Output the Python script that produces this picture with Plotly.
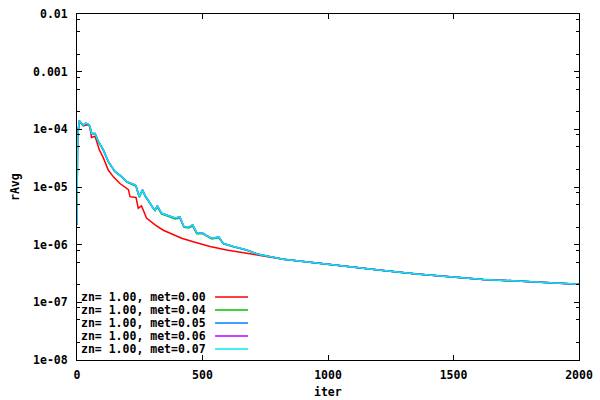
import plotly.graph_objects as go

# ---- data ----
iter_met000 = [0, 2, 9, 25, 40, 50, 58, 72, 89, 105, 125, 145, 171, 198, 205, 211, 235, 244, 257, 277,
               311, 344, 384, 417, 463, 530, 596, 663, 722, 822, 955, 1088, 1220, 1353, 1486, 1619, 1752, 1884, 2000]
ravg_met000 = [2.2e-6, 7.0e-5, 1.41e-4, 1.15e-4, 1.2e-4, 1.17e-4, 7.2e-5, 7.6e-5, 4.4e-5, 3.2e-5,
               1.95e-5, 1.5e-5, 1.15e-5, 9.5e-6, 9.0e-6, 6.8e-6, 6.6e-6, 4.3e-6, 4.7e-6, 2.9e-6,
               2.2e-6, 1.78e-6, 1.48e-6, 1.29e-6, 1.12e-6, 9.3e-7, 8.1e-7, 7.2e-7, 6.6e-7, 5.6e-7,
               4.8e-7, 4.1e-7, 3.55e-7, 3.1e-7, 2.75e-7, 2.5e-7, 2.35e-7, 2.2e-7, 2.05e-7]

iter_doped = [0, 2, 9, 18, 25, 35, 45, 52, 58, 72, 85, 105, 125, 151, 178, 198, 218, 228, 235, 248,
              261, 272, 284, 300, 311, 320, 337, 355, 371, 390, 410, 426, 445, 461, 477, 500, 515, 537, 565, 583,
              623, 676, 722, 822, 955, 1088, 1220, 1353, 1486, 1619, 1752, 1884, 2000]
ravg_met004 = [2.2e-6, 7.0e-5, 1.40e-4, 1.24e-4, 1.18e-4, 1.26e-4, 1.22e-4, 1.08e-4, 8.4e-5, 8.4e-5,
               6.1e-5, 4.3e-5, 2.7e-5, 1.84e-5, 1.49e-5, 1.22e-5, 1.13e-5, 1.08e-5, 1.03e-5, 6.6e-6,
               8.7e-6, 6.8e-6, 5.7e-6, 4.4e-6, 3.9e-6, 4.5e-6, 3.4e-6, 3.2e-6, 3.0e-6, 2.8e-6,
               2.9e-6, 2.0e-6, 1.95e-6, 2.1e-6, 1.55e-6, 1.55e-6, 1.42e-6, 1.26e-6, 1.32e-6, 1.03e-6,
               9.2e-7, 8.0e-7, 6.8e-7, 5.6e-7, 4.8e-7, 4.1e-7, 3.55e-7, 3.1e-7, 2.75e-7, 2.5e-7,
               2.35e-7, 2.2e-7, 2.05e-7]
ravg_met005 = [2.2e-6, 7.0e-5, 1.41e-4, 1.25e-4, 1.19e-4, 1.27e-4, 1.23e-4, 1.1e-4, 8.5e-5, 8.5e-5,
               6.2e-5, 4.4e-5, 2.75e-5, 1.86e-5, 1.51e-5, 1.23e-5, 1.15e-5, 1.1e-5, 1.05e-5, 6.8e-6,
               8.9e-6, 7.0e-6, 5.9e-6, 4.5e-6, 4.0e-6, 4.7e-6, 3.5e-6, 3.3e-6, 3.1e-6, 2.9e-6,
               3.0e-6, 2.05e-6, 2.0e-6, 2.2e-6, 1.6e-6, 1.6e-6, 1.45e-6, 1.29e-6, 1.35e-6, 1.05e-6,
               9.3e-7, 8.1e-7, 6.8e-7, 5.6e-7, 4.8e-7, 4.1e-7, 3.55e-7, 3.1e-7, 2.75e-7, 2.5e-7,
               2.35e-7, 2.2e-7, 2.05e-7]
ravg_met006 = [2.2e-6, 7.0e-5, 1.41e-4, 1.25e-4, 1.19e-4, 1.27e-4, 1.23e-4, 1.1e-4, 8.5e-5, 8.5e-5,
               6.2e-5, 4.4e-5, 2.75e-5, 1.86e-5, 1.51e-5, 1.23e-5, 1.15e-5, 1.1e-5, 1.05e-5, 6.8e-6,
               8.9e-6, 7.0e-6, 5.9e-6, 4.5e-6, 4.0e-6, 4.7e-6, 3.5e-6, 3.3e-6, 3.1e-6, 2.9e-6,
               3.0e-6, 2.05e-6, 2.0e-6, 2.2e-6, 1.6e-6, 1.6e-6, 1.45e-6, 1.29e-6, 1.35e-6, 1.05e-6,
               9.3e-7, 8.1e-7, 6.8e-7, 5.6e-7, 4.8e-7, 4.1e-7, 3.55e-7, 3.1e-7, 2.75e-7, 2.5e-7,
               2.35e-7, 2.2e-7, 2.05e-7]
ravg_met007 = [2.2e-6, 7.0e-5, 1.41e-4, 1.25e-4, 1.19e-4, 1.27e-4, 1.23e-4, 1.1e-4, 8.5e-5, 8.5e-5,
               6.2e-5, 4.4e-5, 2.75e-5, 1.86e-5, 1.51e-5, 1.23e-5, 1.15e-5, 1.1e-5, 1.05e-5, 6.8e-6,
               8.9e-6, 7.0e-6, 5.9e-6, 4.5e-6, 4.0e-6, 4.7e-6, 3.5e-6, 3.3e-6, 3.1e-6, 2.9e-6,
               3.0e-6, 2.05e-6, 2.0e-6, 2.2e-6, 1.6e-6, 1.6e-6, 1.45e-6, 1.29e-6, 1.35e-6, 1.05e-6,
               9.3e-7, 8.1e-7, 6.8e-7, 5.6e-7, 4.8e-7, 4.1e-7, 3.55e-7, 3.1e-7, 2.75e-7, 2.5e-7,
               2.35e-7, 2.2e-7, 2.05e-7]

series_names = ["zn= 1.00, met=0.00", "zn= 1.00, met=0.04", "zn= 1.00, met=0.05",
                "zn= 1.00, met=0.06", "zn= 1.00, met=0.07"]
series_colors = ["#ff0000", "#00c000", "#0080ff", "#c000ff", "#00eeee"]

x_tickvals = [0, 500, 1000, 1500, 2000]
y_tickvals = [1e-8, 1e-7, 1e-6, 1e-5, 1e-4, 1e-3, 1e-2]
y_ticktext = ["1e-08", "1e-07", "1e-06", "1e-05", "1e-04", "0.001", "0.01"]
y_minor_vals = [m * 10.0 ** e for e in range(-8, -2) for m in (2, 5, 8)]

series_x = [iter_met000, iter_doped, iter_doped, iter_doped, iter_doped]
series_y = [ravg_met000, ravg_met004, ravg_met005, ravg_met006, ravg_met007]

FONT = "DejaVu Sans Mono"
FS = 11.5

fig = go.Figure()
for xs, ys, name, col in zip(series_x, series_y, series_names, series_colors):
    fig.add_trace(go.Scatter(x=xs, y=ys, mode="lines", name=name,
                             line=dict(color=col, width=1.5), showlegend=False))

# gnuplot-style key: right-aligned text followed by line sample
row_y = [0.182, 0.1445, 0.107, 0.0694, 0.0318]
for name, col, ry in zip(series_names, series_colors, row_y):
    fig.add_annotation(x=0.259, y=ry, xref="paper", yref="paper", text=name,
                       showarrow=False, xanchor="right", yanchor="middle", borderpad=0,
                       font=dict(family=FONT, size=FS, color="black", weight="bold"))
    fig.add_shape(type="line", xref="paper", yref="paper", x0=0.275, x1=0.3406,
                  y0=ry, y1=ry, line=dict(color=col, width=1.5))

fig.add_annotation(x=0.5, y=-0.0925, xref="paper", yref="paper", text="iter",
                   showarrow=False, xanchor="center", yanchor="middle",
                   font=dict(family=FONT, size=FS, color="black", weight="bold"))
fig.add_annotation(x=-0.1235, y=0.5, xref="paper", yref="paper", text="rAvg",
                   showarrow=False, xanchor="center", yanchor="middle", textangle=-90,
                   font=dict(family=FONT, size=FS, color="black", weight="bold"))

fig.update_layout(
    width=600, height=400,
    margin=dict(l=77, r=21, t=14, b=40, autoexpand=False),
    paper_bgcolor="white", plot_bgcolor="white",
    font=dict(family=FONT, size=FS, color="black", weight="bold"),
    xaxis=dict(range=[0, 2000], tickmode="array", tickvals=x_tickvals, automargin=False,
               ticks="inside", ticklen=5, tickcolor="black", showline=True,
               linecolor="black", linewidth=1, mirror="allticks", showgrid=False,
               zeroline=False, ticklabelstandoff=4),
    yaxis=dict(type="log", range=[-8, -2], tickmode="array", tickvals=y_tickvals,
               ticktext=y_ticktext, ticks="inside", ticklen=5, tickcolor="black",
               showline=True, linecolor="black", linewidth=1, mirror="allticks",
               showgrid=False, zeroline=False, ticklabelstandoff=6, automargin=False,
               minor=dict(tickmode="array", tickvals=y_minor_vals, ticks="inside",
                          ticklen=3, tickcolor="black", showgrid=False)),
)

fig.write_html("out.html", config={"displayModeBar": False},
               post_script="document.body.style.margin='0';")
